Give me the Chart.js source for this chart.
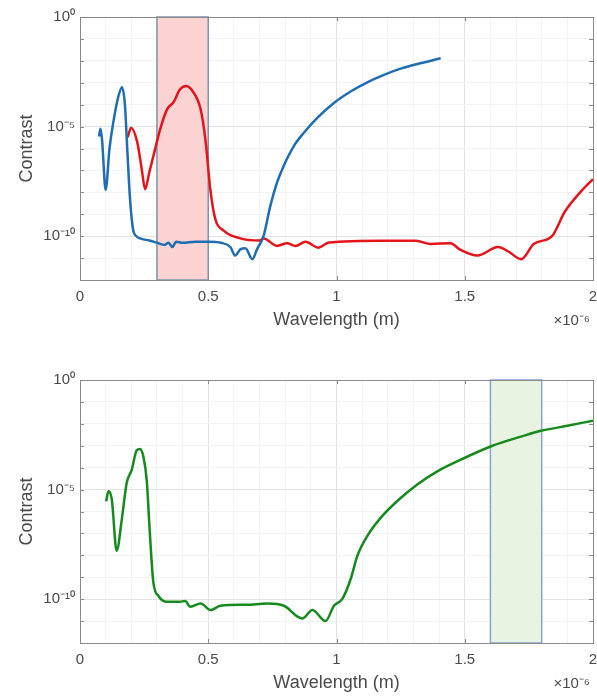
<!DOCTYPE html>
<html>
<head>
<meta charset="utf-8">
<script src="https://cdn.jsdelivr.net/npm/chart.js@4.4.1/dist/chart.umd.min.js"></script>
<style>
  body { margin: 0; background: #fff; }
  .box { position: absolute; left: 0; width: 597px; }
</style>
</head>
<body>
<div class="box" style="top:0;height:345px"><canvas id="top"></canvas></div>
<div class="box" style="top:345px;height:353px"><canvas id="bottom"></canvas></div>
<script>
// wavelength in units of 1e-6 m (axis shows x10^-6)
const blueX = [0.074, 0.080, 0.086, 0.100, 0.115, 0.130, 0.150, 0.164, 0.175, 0.185, 0.195, 0.207, 0.220, 0.234, 0.270, 0.300, 0.330, 0.345, 0.360, 0.375, 0.400, 0.450, 0.500, 0.550, 0.586, 0.605, 0.625, 0.645, 0.672, 0.690, 0.716, 0.742, 0.768, 0.794, 0.833, 0.872, 0.925, 0.990, 1.055, 1.120, 1.185, 1.250, 1.315, 1.406];
const blueY = [3.5e-6, 7.9e-6, 2.5e-6, 1.3e-8, 1e-6, 1.6e-5, 2.5e-4, 6.3e-4, 1e-4, 6.3e-7, 5e-9, 2e-10, 1e-10, 7.9e-11, 6.3e-11, 5e-11, 4e-11, 5e-11, 3.2e-11, 5.6e-11, 5e-11, 5.6e-11, 5.6e-11, 5e-11, 3.2e-11, 1.3e-11, 2.5e-11, 2.8e-11, 8.9e-12, 2.5e-11, 1.05e-10, 2.4e-9, 2.75e-8, 1.6e-7, 1.26e-6, 5.1e-6, 2.5e-5, 1.2e-4, 4e-4, 1.05e-3, 2.3e-3, 4.4e-3, 7.2e-3, 1.3e-2];

const redX = [0.186, 0.199, 0.223, 0.240, 0.254, 0.270, 0.286, 0.313, 0.340, 0.365, 0.390, 0.414, 0.440, 0.470, 0.490, 0.508, 0.527, 0.560, 0.625, 0.700, 0.716, 0.768, 0.807, 0.840, 0.879, 0.930, 0.970, 1.180, 1.310, 1.367, 1.445, 1.480, 1.550, 1.630, 1.670, 1.720, 1.770, 1.840, 1.890, 1.950, 2.000];
const redY = [3.2e-6, 8.9e-6, 2e-6, 1.3e-7, 1.4e-8, 7.9e-8, 4.5e-7, 7.9e-6, 6.3e-5, 1.3e-4, 5e-4, 7.2e-4, 4e-4, 6.3e-5, 2e-6, 1.4e-8, 6.3e-10, 1.8e-10, 7.9e-11, 6.3e-11, 7.9e-11, 3.6e-11, 4.8e-11, 3.6e-11, 5.5e-11, 3e-11, 5.1e-11, 6.2e-11, 6.2e-11, 4.4e-11, 4.8e-11, 2.5e-11, 1.3e-11, 3.2e-11, 2e-11, 8.9e-12, 4.5e-11, 1e-10, 1.3e-9, 1e-8, 4e-8];

const greenX = [0.102, 0.111, 0.124, 0.143, 0.163, 0.182, 0.202, 0.221, 0.234, 0.247, 0.260, 0.273, 0.286, 0.306, 0.339, 0.390, 0.410, 0.430, 0.470, 0.510, 0.547, 0.650, 0.730, 0.795, 0.848, 0.867, 0.906, 0.957, 0.990, 1.022, 1.055, 1.081, 1.120, 1.172, 1.237, 1.315, 1.393, 1.484, 1.608, 1.719, 1.797, 1.900, 2.000];
const greenY = [2.95e-6, 8.3e-6, 3.5e-6, 1.6e-8, 4.4e-7, 2e-5, 8.1e-5, 6.2e-4, 7.1e-4, 3.2e-4, 2.8e-5, 7.6e-8, 5.8e-10, 1.4e-10, 7.6e-11, 7.6e-11, 8.3e-11, 4.5e-11, 6.3e-11, 3.2e-11, 5e-11, 5.6e-11, 6.3e-11, 5e-11, 1.6e-11, 1.3e-11, 3.2e-11, 1e-11, 5e-11, 1e-10, 8.1e-10, 9.3e-9, 7.6e-8, 5.1e-7, 3e-6, 1.7e-5, 6.8e-5, 2.3e-4, 1e-3, 2.6e-3, 4.8e-3, 8.1e-3, 1.4e-2];

// shaded wavelength bands
const redBand = [0.3, 0.5];
const greenBand = [1.6, 1.8];

const decades = [1, 1e-1, 1e-2, 1e-3, 1e-4, 1e-5, 1e-6, 1e-7, 1e-8, 1e-9, 1e-10, 1e-11, 1e-12];
const yLabels = { 1: '10⁰', 1e-5: '10⁻⁵', 1e-10: '10⁻¹⁰' };
const xLabels = [0, 0.5, 1, 1.5, 2];

const FONT = '"Liberation Sans", Arial, sans-serif';
const TEXT = '#4a4a4a';

function pts(xs, ys) {
    return xs.map((x, i) => ({ x: x, y: ys[i] }));
}

// band rectangle, box, inner ticks and the x10^-6 mark
const decor = {
    id: 'decor',
    beforeDatasetsDraw(chart, args, opts) {
        const ctx = chart.ctx, x = chart.scales.x, a = chart.chartArea;
        const x0 = x.getPixelForValue(opts.band[0]);
        const x1 = x.getPixelForValue(opts.band[1]);
        ctx.save();
        ctx.fillStyle = opts.fill;
        ctx.fillRect(x0, a.top, x1 - x0, a.bottom - a.top);
        ctx.strokeStyle = opts.edge;
        ctx.lineWidth = 1.5;
        ctx.strokeRect(x0, a.top, x1 - x0, a.bottom - a.top);
        ctx.restore();
    },
    afterDraw(chart, args, opts) {
        const ctx = chart.ctx, a = chart.chartArea;
        ctx.save();
        ctx.strokeStyle = '#8a8a8a';
        ctx.lineWidth = 1;
        ctx.strokeRect(a.left + 0.5, a.top + 0.5, a.right - a.left, a.bottom - a.top);
        ctx.beginPath();
        decades.forEach(v => {
            const y = Math.round(chart.scales.y.getPixelForValue(v)) + 0.5;
            ctx.moveTo(a.left, y); ctx.lineTo(a.left + 4, y);
            ctx.moveTo(a.right, y); ctx.lineTo(a.right - 4, y);
        });
        xLabels.forEach(v => {
            const x = Math.round(chart.scales.x.getPixelForValue(v)) + 0.5;
            ctx.moveTo(x, a.bottom); ctx.lineTo(x, a.bottom - 4);
            ctx.moveTo(x, a.top); ctx.lineTo(x, a.top + 4);
        });
        ctx.stroke();
        ctx.fillStyle = TEXT;
        ctx.font = '15px ' + FONT;
        ctx.textAlign = 'right';
        ctx.textBaseline = 'middle';
        ctx.fillText('×10⁻⁶', a.right - 3, opts.markY);
        ctx.restore();
    }
};

function makeChart(id, sets, band, fill, edge, top, bottom, titlePad, markY) {
    new Chart(document.getElementById(id), {
        type: 'line',
        data: { datasets: sets },
        options: {
            responsive: true,
            maintainAspectRatio: false,
            animation: false,
            layout: { padding: { top: top, right: 4, left: 0, bottom: 0 } },
            elements: {
                point: { radius: 0 },
                line: { borderWidth: 2.5, cubicInterpolationMode: 'monotone' }
            },
            plugins: {
                legend: { display: false },
                tooltip: { enabled: false },
                decor: { band: band, fill: fill, edge: edge, markY: markY }
            },
            scales: {
                x: {
                    type: 'linear',
                    min: 0,
                    max: 2,
                    afterFit: s => { s.height = bottom; s.paddingLeft = 0; s.paddingRight = 0; },
                    border: { display: false },
                    grid: {
                        drawTicks: false,
                        color: c => (xLabels.includes(Math.round(c.tick.value * 10) / 10) ? '#e3e3e3' : '#f3f3f3')
                    },
                    ticks: {
                        stepSize: 0.1,
                        autoSkip: false,
                        maxRotation: 0,
                        padding: 8,
                        color: TEXT,
                        font: { size: 15, family: FONT },
                        callback: v => {
                            const r = Math.round(v * 10) / 10;
                            return xLabels.includes(r) ? String(r) : '';
                        }
                    },
                    title: {
                        display: true,
                        text: 'Wavelength (m)',
                        color: TEXT,
                        font: { size: 18, family: FONT },
                        padding: { top: 0, bottom: titlePad }
                    }
                },
                y: {
                    type: 'logarithmic',
                    min: 1e-12,
                    max: 1,
                    afterFit: s => { s.width = 80; },
                    afterBuildTicks: s => { s.ticks = decades.map(v => ({ value: v })); },
                    border: { display: false },
                    grid: {
                        drawTicks: false,
                        color: c => (yLabels[c.tick.value] ? '#e3e3e3' : '#f3f3f3')
                    },
                    ticks: {
                        padding: 5,
                        color: TEXT,
                        font: { size: 15, family: FONT },
                        callback: v => yLabels[v] || ''
                    },
                    title: {
                        display: true,
                        text: 'Contrast',
                        color: TEXT,
                        font: { size: 18, family: FONT },
                        padding: { top: 16, bottom: 0 }
                    }
                }
            }
        },
        plugins: [decor]
    });
}

makeChart('top', [
    { data: pts(blueX, blueY), borderColor: '#1f6db3' },
    { data: pts(redX, redY), borderColor: '#e5141a' }
], redBand, '#fbd3d3', '#7f93ab', 17, 65, 14, 321);

makeChart('bottom', [
    { data: pts(greenX, greenY), borderColor: '#168a1c' }
], greenBand, '#e9f3e1', '#86a6cc', 35, 55, 4, 339);
</script>
</body>
</html>
